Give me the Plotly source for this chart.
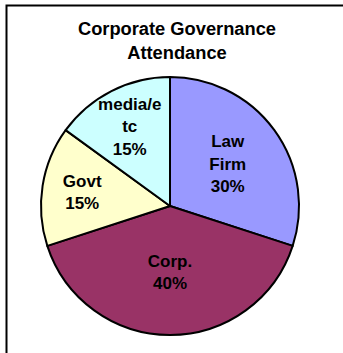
import plotly.graph_objects as go

categories = ["Law Firm", "Corp.", "Govt", "media/etc"]
label_text = ["Law<br>Firm", "Corp.", "Govt", "media/e<br>tc"]
values = [30, 40, 15, 15]
colors = ["#9999FF", "#993366", "#FFFFCC", "#CCFFFF"]

W, H = 343, 353
FONT = "Liberation Sans, Arial, sans-serif"

fig = go.Figure()
fig.add_trace(go.Pie(
    labels=categories,
    values=values,
    text=label_text,
    texttemplate="%{text}<br>%{percent:.0%}",
    textposition="inside",
    insidetextorientation="horizontal",
    insidetextfont=dict(family=FONT, size=17, color="black", weight="bold"),
    marker=dict(colors=colors, line=dict(color="black", width=2)),
    sort=False,
    direction="clockwise",
    rotation=0,
    hoverinfo="label+percent",
    domain=dict(x=[41 / W, 299 / W], y=[1 - 335 / H, 1 - 77 / H]),
    showlegend=False,
))

fig.update_layout(
    width=W, height=H,
    margin=dict(l=0, r=0, t=0, b=0),
    paper_bgcolor="white",
    plot_bgcolor="white",
    uniformtext=dict(mode="show", minsize=17),
    title=dict(
        text="Corporate Governance<br>Attendance",
        font=dict(family=FONT, size=18.3, color="black", weight="bold"),
        x=177 / W, xanchor="center",
        y=1 - 35 / H, yanchor="top", yref="container",
    ),
    shapes=[dict(
        type="rect", xref="paper", yref="paper",
        x0=6.5 / W, x1=1.1, y0=-0.1, y1=1 - 5.5 / H,
        line=dict(color="black", width=2),
        fillcolor="rgba(0,0,0,0)",
    )],
)

fig.write_html("out.html")
